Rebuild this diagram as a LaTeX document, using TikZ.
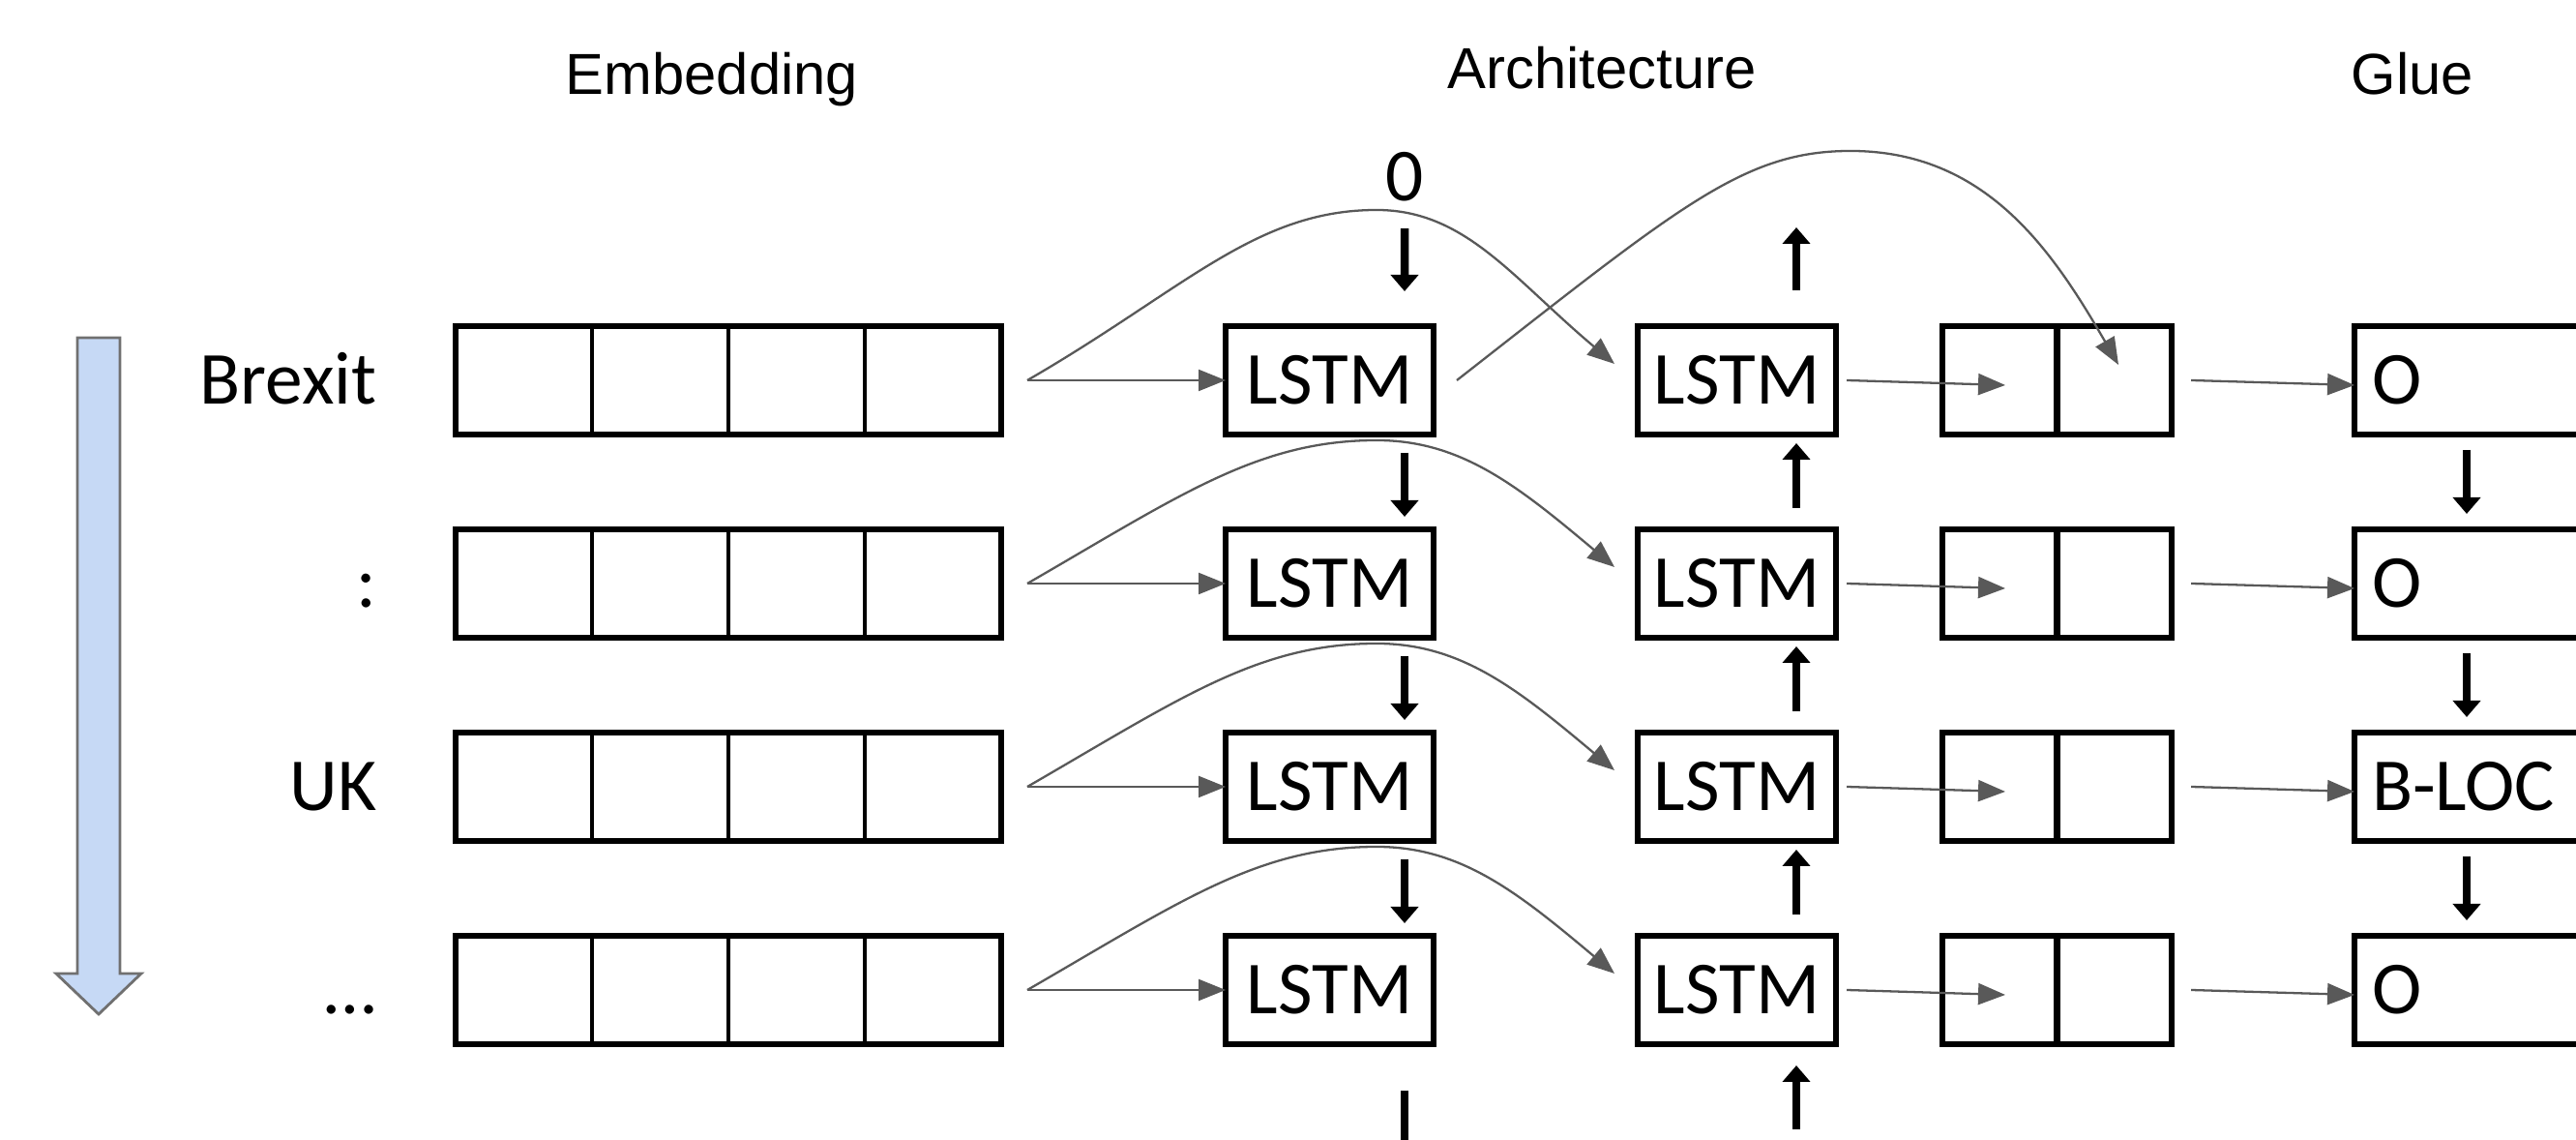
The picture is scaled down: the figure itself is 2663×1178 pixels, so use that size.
\documentclass[tikz,border=0pt]{standalone}
\usepackage{fontspec}
\setmainfont{Carlito}
\newfontfamily\headfont{Liberation Sans}
\usetikzlibrary{arrows.meta}
\definecolor{linkgray}{HTML}{595959}
\definecolor{arrowblue}{HTML}{C6D9F5}
\definecolor{arrowedge}{HTML}{707070}

\tikzset{
  cell/.style={draw, line width=1.5pt, minimum height=11.2mm, inner sep=0pt, outer sep=0pt, font=\fontsize{22}{26}\selectfont},
  word/.style={anchor=base east, inner sep=0pt, font=\fontsize{22}{26}\selectfont},
  head/.style={anchor=base, inner sep=0pt, font=\headfont\fontsize{17}{20}\selectfont},
  link/.style={draw=linkgray, line width=0.65pt, -{Triangle[length=2.8mm,width=2.2mm]}},
  flow/.style={line width=0.85mm, -{Triangle[length=1.7mm,width=2.8mm]}}
}

\begin{document}
\begin{tikzpicture}[x=0.1mm, y=0.1mm]
    \useasboundingbox (0,0) rectangle (2663,1178);
    \clip (0,0) rectangle (2663,1178);

    \node[head] (embhead) at (736,1080) {Embedding};
    \node[head] (archhead) at (1656,1086) {Architecture};
    \node[head] (gluehead) at (2494,1080) {Glue};

    % reading direction
    \draw[fill=arrowblue, draw=arrowedge, line width=0.8pt] (80,829) -- (124,829) -- (124,172) -- (146,172) -- (102,130) -- (58,172) -- (80,172) -- cycle;

    \node[inner sep=0pt, font=\fontsize{22}{26}\selectfont] (zero) at (1452,995) {0};

    \foreach \tok/\tag/\hop [count=\k] [evaluate=\k as \y using 785-210*(\k-1)] in {Brexit/O/176, :/O/148, UK/B-LOC/148, …/O/148}
    {
      \node[word] (word\k) at (390,\y-25) {\tok};
      \node[cell, minimum width=56.4mm] (emb\k) at (753,\y) {};
      \foreach \c in {1,2,3}
        \draw[line width=1pt] ([xshift=\c*14.1mm]emb\k.south west) -- ([xshift=\c*14.1mm]emb\k.north west);
      \node[cell, minimum width=21.5mm] (lstmf\k) at (1374.5,\y) {LSTM};
      \node[cell, minimum width=20.5mm] (lstmb\k) at (1795.5,\y) {LSTM};
      \node[cell, minimum width=23.7mm] (cat\k) at (2126.5,\y) {};
      \draw[line width=1.8pt] (cat\k.north) -- (cat\k.south);
      \node[cell, minimum width=28mm, text width=24.4mm, align=left] (glue\k) at (2574,\y) {\tag};

      \coordinate (fork\k) at ([xshift=2.7mm]emb\k.east);
      \coordinate (top\k) at ([xshift=36.1mm,yshift=\hop*0.1mm]fork\k);
      \coordinate (tip\k) at ([xshift=-2.4mm,yshift=1.7mm]lstmb\k.west);
      \draw[link] (fork\k) -- (lstmf\k.west);
      \draw[link] (fork\k) to[out=30,in=180,out looseness=1.2,in looseness=0.8] (top\k) to[out=0,in=140,out looseness=0.8,in looseness=1.2] (tip\k);
      \draw[link] ([xshift=1.1mm]lstmb\k.east) -- ([xshift=-5.35mm,yshift=-0.5mm]cat\k.center);
      \draw[link] ([xshift=2mm]cat\k.east) -- ([yshift=-0.5mm]glue\k.west);
    }

    \coordinate (hop) at ([xshift=43.1mm,yshift=23.7mm]lstmf1.east);
    \draw[link] ([xshift=2.4mm]lstmf1.east) to[out=38,in=180,out looseness=1.6,in looseness=0.6] (hop) to[out=0,in=120] ([xshift=6.35mm,yshift=1.6mm]cat1.center);

    \foreach \k [evaluate=\k as \n using int(\k+1)] in {1,2,3}
    {
      \draw[flow, shorten <=1.9mm, shorten >=1.3mm] ([xshift=7.75mm]lstmf\k.south) -- ([xshift=7.75mm]lstmf\n.north);
      \draw[flow, shorten <=2.2mm, shorten >=0.9mm] ([xshift=6.15mm]lstmb\n.north) -- ([xshift=6.15mm]lstmb\k.south);
      \draw[flow, shorten <=1.6mm, shorten >=1.6mm] ([xshift=11.6mm]glue\k.south west) -- ([xshift=11.6mm]glue\n.north west);
    }

    \draw[flow, shorten <=2.7mm, shorten >=3.6mm] (zero.south) -- ([xshift=7.75mm]lstmf1.north);
    \coordinate (bout) at ([xshift=6.15mm,yshift=10.2mm]lstmb1.north);
    \draw[flow, shorten <=3.7mm] ([xshift=6.15mm]lstmb1.north) -- (bout);
    \coordinate (fout) at ([xshift=7.75mm,yshift=-12mm]lstmf4.south);
    \draw[flow, shorten <=4.8mm] ([xshift=7.75mm]lstmf4.south) -- (fout);
    \coordinate (bin) at ([xshift=6.15mm,yshift=-8.8mm]lstmb4.south);
    \draw[flow, shorten >=2.2mm] (bin) -- ([xshift=6.15mm]lstmb4.south);
\end{tikzpicture}
\end{document}
